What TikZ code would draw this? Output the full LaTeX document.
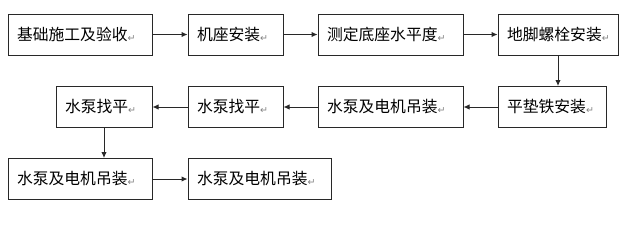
\documentclass[tikz,border=0pt]{standalone}
\usepackage{fontspec}
\usepackage{xcolor}
\usetikzlibrary{arrows.meta, positioning, calc}
\newfontfamily\cjk{Noto Sans CJK SC}
\newfontfamily\markfont{DejaVu Sans}
\definecolor{boxline}{RGB}{40, 40, 40}
\definecolor{markgray}{RGB}{130, 130, 130}
\newcommand{\pmark}{{\markfont\fontsize{9.5pt}{9.5pt}\selectfont\color{markgray}\raisebox{-1pt}{↵}}}

\begin{document}
\begin{tikzpicture}[x=1pt, y=-1pt, >={Latex[length=6pt, width=5.5pt]},
    stepbox/.style={draw=boxline, line width=1pt, minimum height=41pt, inner xsep=9pt,
        inner ysep=0pt, align=left, font=\cjk\fontsize{15.8pt}{17pt}\selectfont},
    flow/.style={->, line width=1pt, draw=boxline}]
    \useasboundingbox (0,0) rectangle (642,225);
    % row one
    \node[stepbox, text width=126pt] (base)   at (80,34.5)  {基础施工及验收\pmark};
    \node[stepbox, text width=77pt]  (seat)   at (235.5,34.5) {机座安装\pmark};
    \node[stepbox, text width=127pt] (level)  at (390.5,34.5) {测定底座水平度\pmark};
    \node[stepbox, text width=102pt] (bolt)   at (558,34.5) {地脚螺栓安装\pmark};
    % row two
    \node[stepbox, text width=90pt]  (shim)   at (552,107)  {平垫铁安装\pmark};
    \node[stepbox, text width=127pt] (lift)   at (390.5,107) {水泵及电机吊装\pmark};
    \node[stepbox, text width=77pt]  (alignb) at (235.5,107) {水泵找平\pmark};
    \node[stepbox, text width=78pt]  (aligna) at (104,107)  {水泵找平\pmark};
    % row three
    \node[stepbox, text width=126pt] (lifta)  at (80,179)   {水泵及电机吊装\pmark};
    \node[stepbox, text width=125pt] (liftb)  at (259.5,179) {水泵及电机吊装\pmark};
    % connectors
    \draw[flow] (base) -- (seat);
    \draw[flow] (seat) -- (level);
    \draw[flow] (level) -- (bolt);
    \draw[flow] (bolt.south) -- (bolt.south |- shim.north);
    \draw[flow] (shim) -- (lift);
    \draw[flow] (lift) -- (alignb);
    \draw[flow] (alignb) -- (aligna);
    \draw[flow] (aligna.south) -- (aligna.south |- lifta.north);
    \draw[flow] (lifta) -- (liftb);
\end{tikzpicture}
\end{document}
